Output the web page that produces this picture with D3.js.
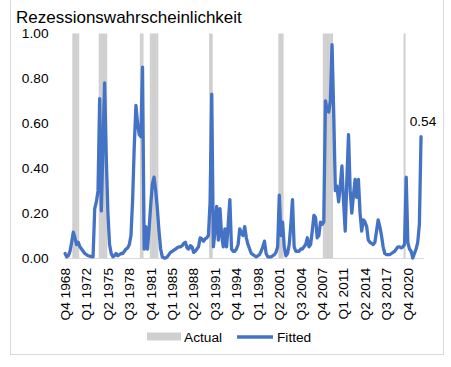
<!DOCTYPE html>
<html><head><meta charset="utf-8">
<script src="https://cdn.jsdelivr.net/npm/d3@7/dist/d3.min.js"></script>
<style>html,body{margin:0;padding:0;background:#fff;}svg{display:block;}</style>
</head><body>
<script>
// ---- data ----
const startYear = 1968, startQuarter = 4, nQuarters = 217;
const fitted = [
0.02,0.005,0.01,0.03,0.07,0.115,0.09,0.06,0.07,0.05,
0.04,0.03,0.02,0.015,0.01,0.008,0.006,0.005,0.22,0.25,
0.3,0.71,0.21,0.5,0.78,0.45,0.2,0.06,0.02,0.005,
0.01,0.02,0.01,0.015,0.02,0.02,0.03,0.04,0.045,0.06,
0.1,0.26,0.5,0.68,0.6,0.55,0.54,0.85,0.04,0.14,
0.04,0.13,0.24,0.33,0.36,0.3,0.22,0.12,0.04,0.005,
0.0,0.0,0.005,0.015,0.025,0.03,0.035,0.04,0.045,0.05,
0.05,0.055,0.065,0.07,0.045,0.04,0.055,0.05,0.025,0.03,
0.04,0.05,0.09,0.085,0.075,0.085,0.09,0.1,0.25,0.73,
0.05,0.12,0.23,0.08,0.22,0.1,0.05,0.13,0.05,0.15,
0.26,0.04,0.03,0.03,0.04,0.06,0.13,0.11,0.1,0.14,
0.09,0.06,0.04,0.02,0.015,0.01,0.005,0.01,0.015,0.03,
0.05,0.075,0.02,0.005,0.005,0.005,0.01,0.015,0.025,0.05,
0.28,0.1,0.16,0.05,0.01,0.02,0.06,0.15,0.26,0.05,
0.03,0.03,0.03,0.04,0.04,0.05,0.06,0.09,0.05,0.06,
0.12,0.19,0.18,0.09,0.1,0.16,0.15,0.16,0.7,0.66,
0.65,0.7,0.95,0.65,0.3,0.32,0.25,0.32,0.41,0.25,
0.12,0.35,0.55,0.3,0.2,0.28,0.35,0.27,0.35,0.2,
0.12,0.17,0.16,0.14,0.08,0.07,0.065,0.06,0.07,0.12,
0.17,0.14,0.1,0.05,0.02,0.015,0.015,0.015,0.02,0.025,
0.03,0.04,0.05,0.05,0.045,0.05,0.06,0.36,0.07,0.04,
0.03,0.0,0.02,0.04,0.07,0.15,0.54
];
const recessionQuarters = [
"Q1 1970","Q2 1970","Q3 1970","Q4 1970",
"Q1 1974","Q2 1974","Q3 1974","Q4 1974","Q1 1975",
"Q2 1980","Q3 1980",
"Q4 1981","Q1 1982","Q2 1982","Q3 1982","Q4 1982",
"Q4 1990","Q1 1991",
"Q2 2001","Q3 2001","Q4 2001",
"Q1 2008","Q2 2008","Q3 2008","Q4 2008","Q1 2009","Q2 2009",
"Q2 2020"
];
const tickLabels = ["Q4 1968","Q1 1972","Q2 1975","Q3 1978","Q4 1981","Q1 1985","Q2 1988","Q3 1991",
"Q4 1994","Q1 1998","Q2 2001","Q3 2004","Q4 2007","Q1 2011","Q2 2014","Q3 2017","Q4 2020"];
const yTicks = [0, 0.2, 0.4, 0.6, 0.8, 1.0];
const title = "Rezessionswahrscheinlichkeit";
const lastLabel = "0.54";

// categories
const quarters = [];
for (let i = 0; i < nQuarters; i++) {
  const t = (startQuarter - 1) + i;
  quarters.push("Q" + (t % 4 + 1) + " " + (startYear + Math.floor(t / 4)));
}
const recSet = new Set(recessionQuarters);
const actual = quarters.map(q => recSet.has(q) ? 1 : 0);

// ---- drawing ----
const W = 451, H = 367;
const FONT = "'Liberation Sans', Arial, sans-serif";
const svg = d3.select("body").append("svg").attr("width", W).attr("height", H);

svg.append("rect").attr("x", 10.5).attr("y", -5).attr("width", 433).attr("height", 359.5)
  .attr("fill", "#fff").attr("stroke", "#d9d9d9").attr("stroke-width", 1);

const step = 1.648;
const x = d3.scaleBand().domain(quarters).range([64.24, 64.24 + nQuarters * step]).padding(0);
const y = d3.scaleLinear().domain([0, 1]).range([258, 33.5]);
const cx = q => x(q) + x.bandwidth() / 2;

// Actual (recession) columns
svg.append("g").selectAll("rect")
  .data(quarters.map((q, i) => ({q, v: actual[i]})).filter(d => d.v > 0))
  .join("rect")
  .attr("x", d => x(d.q) - 0.15)
  .attr("width", x.bandwidth() + 0.3)
  .attr("y", d => y(d.v))
  .attr("height", d => y(0) - y(d.v))
  .attr("fill", "#cfcfcf");

// x axis line
svg.append("line").attr("x1", x.range()[0]).attr("x2", x.range()[1] + 2)
  .attr("y1", y(0) + 0.5).attr("y2", y(0) + 0.5).attr("stroke", "#d9d9d9").attr("stroke-width", 1);

// Fitted line
const line = d3.line().x((d, i) => cx(quarters[i])).y(d => y(d)).curve(d3.curveLinear);
svg.append("path").datum(fitted).attr("d", line)
  .attr("fill", "none").attr("stroke", "#4472C4").attr("stroke-width", 3.3)
  .attr("stroke-linejoin", "round").attr("stroke-linecap", "round");

// y labels
svg.append("g").selectAll("text").data(yTicks).join("text")
  .attr("x", 48.5).attr("y", d => y(d)).attr("dy", "0.35em")
  .attr("text-anchor", "end").attr("font-family", FONT).attr("font-size", 13.7)
  .attr("fill", "#000").text(d => d.toFixed(2));

// x labels
svg.append("g").selectAll("text").data(tickLabels).join("text")
  .attr("transform", d => `translate(${cx(d)},268) rotate(-90)`)
  .attr("dy", "0.35em").attr("text-anchor", "end")
  .attr("font-family", FONT).attr("font-size", 13.7).attr("fill", "#000").text(d => d);

// title
svg.append("text").attr("x", 16).attr("y", 22.5).attr("font-family", FONT)
  .attr("font-size", 17).attr("fill", "#000").text(title);

// last value label
const lastQ = quarters[quarters.length - 1];
svg.append("text").attr("x", cx(lastQ) + 2).attr("y", y(fitted[fitted.length - 1]) - 11)
  .attr("text-anchor", "middle").attr("font-family", FONT).attr("font-size", 13.7)
  .attr("fill", "#000").text(lastLabel);

// legend
const lg = svg.append("g");
lg.append("rect").attr("x", 147).attr("y", 332.5).attr("width", 34).attr("height", 8).attr("fill", "#cfcfcf");
lg.append("text").attr("x", 184).attr("y", 341.5).attr("font-family", FONT).attr("font-size", 13.7)
  .attr("fill", "#000").text("Actual");
lg.append("line").attr("x1", 237).attr("x2", 273).attr("y1", 337).attr("y2", 337)
  .attr("stroke", "#4472C4").attr("stroke-width", 3.5);
lg.append("text").attr("x", 277).attr("y", 341.5).attr("font-family", FONT).attr("font-size", 13.7)
  .attr("fill", "#000").text("Fitted");
</script>
</body></html>
